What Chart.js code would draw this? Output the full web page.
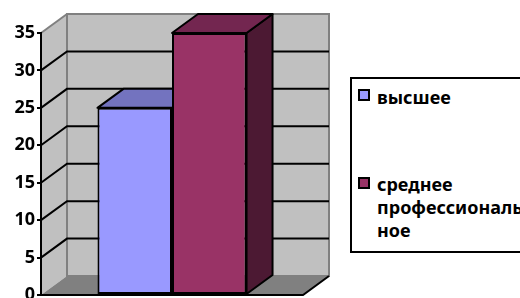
<!DOCTYPE html>
<html><head><meta charset="utf-8">
<script src="https://cdn.jsdelivr.net/npm/chart.js@4"></script>
<style>
html,body{margin:0;padding:0;background:#fff;overflow:hidden;width:520px;height:298px;}
#wrap{position:relative;width:520px;height:298px;overflow:hidden;}
#c{position:absolute;left:0;top:0;}
#legend{position:absolute;left:350px;top:77px;width:320px;height:176px;border:2px solid #000;border-right:none;box-sizing:border-box;background:#fff;font:700 18px 'Noto Sans',sans-serif;color:#000;}
.sw{position:absolute;left:6px;width:12px;height:12px;border:2px solid #000;box-sizing:border-box;}
.lt{position:absolute;left:25px;line-height:23px;white-space:nowrap;}
</style>
</head><body>
<div id="wrap">
<canvas id="c" width="520" height="298"></canvas>
<div id="legend"></div>
</div>
<script>
const categories = ['1'];
const seriesNames = ['высшее', 'среднее профессиональное'];
const seriesValues = [[25], [35]];
const yTicks = [0, 5, 10, 15, 20, 25, 30, 35];
const legendLines = [['высшее'], ['среднее', 'профессиональ', 'ное']];

const frontColors = ['#9999FF', '#993366'];
const topColors = ['#7373BF', '#732650'];
const sideColors = ['#4C4C80', '#4C1933'];
const DX = 26, DY = -19;

function poly(ctx, pts){
  ctx.beginPath();
  ctx.moveTo(pts[0][0], pts[0][1]);
  for (let i = 1; i < pts.length; i++) ctx.lineTo(pts[i][0], pts[i][1]);
  ctx.closePath();
}
function path(ctx, pts){
  ctx.beginPath();
  ctx.moveTo(pts[0][0], pts[0][1]);
  for (let i = 1; i < pts.length; i++) ctx.lineTo(pts[i][0], pts[i][1]);
  ctx.stroke();
}

const excel3d = {
  id: 'excel3d',
  beforeDraw(chart){
    const {ctx, chartArea, scales} = chart;
    const {left, right, top, bottom} = chartArea;
    const y = scales.y;
    ctx.save();
    ctx.fillStyle = '#C0C0C0';
    poly(ctx, [[left,bottom],[left,top],[left+DX,top+DY],[left+DX,bottom+DY]]);
    ctx.fill();
    ctx.fillRect(left+DX, top+DY, right-left, bottom-top);
    ctx.fillStyle = '#808080';
    poly(ctx, [[left,bottom],[right,bottom],[right+DX,bottom+DY],[left+DX,bottom+DY]]);
    ctx.fill();
    ctx.lineWidth = 2;
    ctx.strokeStyle = '#808080';
    ctx.strokeRect(left+DX, top+DY, right-left, bottom-top);
    path(ctx, [[left,top],[left+DX,top+DY]]);
    ctx.strokeStyle = '#000';
    const mn = yTicks[0], mx = yTicks[yTicks.length-1];
    yTicks.forEach(v => {
      if (v <= mn || v >= mx) return;
      const yy = y.getPixelForValue(v);
      path(ctx, [[left,yy],[left+DX,yy+DY],[right+DX,yy+DY]]);
    });
    path(ctx, [[left,bottom],[right,bottom],[right+DX,bottom+DY]]);
    ctx.restore();
  },
  beforeDatasetsDraw(chart){
    const ctx = chart.ctx;
    ctx.save();
    ctx.lineWidth = 2;
    ctx.strokeStyle = '#000';
    ctx.lineJoin = 'round';
    chart.data.datasets.forEach((ds, i) => {
      const meta = chart.getDatasetMeta(i);
      meta.data.forEach(bar => {
        const p = bar.getProps(['x','y','base','width'], true);
        const l = p.x - p.width/2, r = p.x + p.width/2, t = p.y, b = p.base;
        ctx.fillStyle = sideColors[i];
        poly(ctx, [[r,t],[r+DX,t+DY],[r+DX,b+DY],[r,b]]);
        ctx.fill(); ctx.stroke();
        ctx.fillStyle = topColors[i];
        poly(ctx, [[l,t],[r,t],[r+DX,t+DY],[l+DX,t+DY]]);
        ctx.fill(); ctx.stroke();
      });
    });
    ctx.restore();
  }
};

new Chart(document.getElementById('c'), {
  type: 'bar',
  data: {
    labels: categories,
    datasets: seriesNames.map((name, i) => ({
      label: name,
      data: seriesValues[i],
      backgroundColor: frontColors[i],
      borderColor: '#000',
      borderWidth: 2,
      borderSkipped: false,
      categoryPercentage: 0.569,
      barPercentage: 1.0
    }))
  },
  options: {
    responsive: false,
    animation: false,
    devicePixelRatio: 1,
    layout: { padding: { top: 33, bottom: 3, left: 0, right: 217 } },
    plugins: { legend: { display: false }, tooltip: { enabled: false } },
    scales: {
      x: { display: false },
      y: {
        min: yTicks[0],
        max: yTicks[yTicks.length-1],
        afterBuildTicks: s => { s.ticks = yTicks.map(v => ({ value: v })); },
        afterFit: s => { s.width = 41; s.paddingTop = 0; s.paddingBottom = 0; },
        grid: { drawOnChartArea: false, drawTicks: true, tickLength: 4, color: '#000', lineWidth: 2 },
        border: { display: true, color: '#000', width: 2 },
        ticks: { color: '#000', padding: 2, font: { family: 'Noto Sans', weight: 'bold', size: 18 } }
      }
    }
  },
  plugins: [excel3d]
});

const lg = document.getElementById('legend');
const itemTops = [6.5, 93.5];
const swTops = [10, 98];
seriesNames.forEach((name, i) => {
  const sw = document.createElement('div');
  sw.className = 'sw';
  sw.style.top = swTops[i] + 'px';
  sw.style.background = frontColors[i];
  lg.appendChild(sw);
  const t = document.createElement('div');
  t.className = 'lt';
  t.style.top = itemTops[i] + 'px';
  t.innerHTML = legendLines[i].join('<br>');
  lg.appendChild(t);
});
</script>
</body></html>
